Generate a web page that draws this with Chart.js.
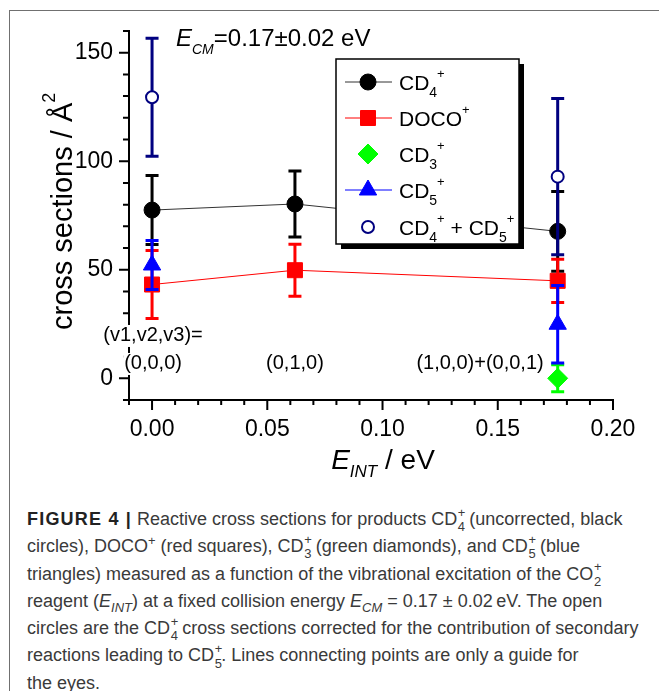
<!DOCTYPE html>
<html>
<head>
<meta charset="utf-8">
<script src="https://cdn.jsdelivr.net/npm/chart.js@4.4.1/dist/chart.umd.min.js"></script>
<style>
  body { margin: 0; background: #fff; width: 659px; height: 691px; overflow: hidden; position: relative; }
  #frame { position: absolute; left: 9px; top: 10px; width: 700px; height: 700px; border-left: 1.5px solid #707070; border-top: 1.5px solid #707070; }
  #chart { position: absolute; left: 0; top: 0; }
  #caption { position: absolute; left: 27px; top: 506px; font-family: "Liberation Sans", Arial, sans-serif; font-size: 18px; line-height: 27.3px; color: #3a3a3a; white-space: nowrap; }
  #caption b { letter-spacing: 1.2px; color: #222; }
  .ss { display: inline-block; position: relative; width: 0.55em; height: 0; font-size: 0.72em; }
  .ss span { position: absolute; left: 0.05em; line-height: 1; }
  .ss .sp { top: -1.4em; }
  .ss .sb { top: -0.3em; }
  sup { font-size: 0.72em; line-height: 0; }
  sub { font-size: 0.72em; line-height: 0; }
</style>
</head>
<body>
<div id="frame"></div>
<canvas id="chart" width="659" height="480"></canvas>
<div id="caption">
<div><b>FIGURE 4 |</b> Reactive cross sections for products CD<span class="ss"><span class="sp">+</span><span class="sb">4</span></span> (uncorrected, black</div>
<div>circles), DOCO<sup>+</sup> (red squares), CD<span class="ss"><span class="sp">+</span><span class="sb">3</span></span> (green diamonds), and CD<span class="ss"><span class="sp">+</span><span class="sb">5</span></span> (blue</div>
<div>triangles) measured as a function of the vibrational excitation of the CO<span class="ss"><span class="sp">+</span><span class="sb">2</span></span></div>
<div>reagent (<i>E<sub>INT</sub></i>) at a fixed collision energy <i>E<sub>CM</sub></i> = 0.17 ± 0.02&#8201;eV. The open</div>
<div>circles are the CD<span class="ss"><span class="sp">+</span><span class="sb">4</span></span> cross sections corrected for the contribution of secondary</div>
<div>reactions leading to CD<span class="ss"><span class="sp">+</span><span class="sb">5</span></span>. Lines connecting points are only a guide for</div>
<div>the eyes.</div>
</div>
<script>
// E_INT values (eV) of the three vibrational states
const xVals = [0.0, 0.062, 0.176];
const stateLabels = ['(0,0,0)', '(0,1,0)', '(1,0,0)+(0,0,1)'];

// cross sections (A^2) and error bars
const cd4 = [77.5, 80.3, 67.7];
const cd4Err = [15.9, 15.2, 18.4];
const doco = [43.2, 49.8, 44.9];
const docoErr = [15.7, 12.0, 10.0];
const cd3X = [0.176];
const cd3 = [0.0];
const cd3Err = [6.2];
const cd5X = [0.0, 0.176];
const cd5 = [52.2, 24.9];
const cd5Err = [11.3, 17.8];
const sumX = [0.0, 0.176];
const sum = [129.5, 92.9];
const sumErr = [27.2, 36.0];

const FONT = '"Liberation Sans", Arial, sans-serif';

function pts(xs, ys) {
    return xs.map((x, i) => ({x: x, y: ys[i]}));
}

// draw text pieces one after another: [text, size, dy, italic]
function rich(ctx, x, y, parts) {
    let cx = x;
    for (const [t, size, dy, it] of parts) {
        ctx.font = (it ? 'italic ' : '') + size + 'px ' + FONT;
        ctx.fillText(t, cx, y + dy);
        cx += ctx.measureText(t).width;
    }
    return cx;
}

function richWidth(ctx, parts) {
    let w = 0;
    for (const [t, size, dy, it] of parts) {
        ctx.font = (it ? 'italic ' : '') + size + 'px ' + FONT;
        w += ctx.measureText(t).width;
    }
    return w;
}

// label with a white box behind it (hides the axis like the original)
function boxedLabel(ctx, text, x, y, align) {
    const w = ctx.measureText(text).width;
    let left = x - w / 2;
    if (align === 'right') left = x - w;
    ctx.fillStyle = '#fff';
    ctx.fillRect(left - 1, y - 11, w + 2, 22);
    ctx.fillStyle = '#000';
    ctx.textAlign = 'left';
    ctx.fillText(text, left, y);
}

const datasets = [
    {label: 'CD4+', data: pts(xVals, cd4), errors: cd4Err, errColor: '#000',
     showLine: true, borderColor: '#333', borderWidth: 1,
     pointStyle: 'circle', pointRadius: 8, pointBackgroundColor: '#000', pointBorderColor: '#000', pointBorderWidth: 1, order: 5},
    {label: 'DOCO+', data: pts(xVals, doco), errors: docoErr, errColor: '#ff0000',
     showLine: true, borderColor: '#ff0000', borderWidth: 1,
     pointStyle: 'rect', pointRadius: 10.6, pointBackgroundColor: '#ff0000', pointBorderColor: '#ff0000', pointBorderWidth: 1, order: 4},
    {label: 'CD3+', data: pts(cd3X, cd3), errors: cd3Err, errColor: '#00ff00',
     showLine: false,
     pointStyle: 'rectRot', pointRadius: 10, pointBackgroundColor: '#00ff00', pointBorderColor: '#00ff00', pointBorderWidth: 1, order: 3},
    {label: 'CD5+', data: pts(cd5X, cd5), errors: cd5Err, errColor: '#0000ff',
     showLine: false,
     pointStyle: 'triangle', pointRadius: 10, pointBackgroundColor: '#0000ff', pointBorderColor: '#0000ff', pointBorderWidth: 1, order: 2},
    {label: 'CD4+ + CD5+', data: pts(sumX, sum), errors: sumErr, errColor: '#000080',
     showLine: false,
     pointStyle: 'circle', pointRadius: 6, pointBackgroundColor: '#fff', pointBorderColor: '#000080', pointBorderWidth: 2, order: 1}
];

// error bars, drawn just before each dataset's own markers
const errorBars = {
    id: 'errorBars',
    beforeDatasetDraw(chart, args) {
        const ds = chart.data.datasets[args.index];
        if (!ds.errors) return;
        const ctx = chart.ctx, xs = chart.scales.x, ys = chart.scales.y;
        ctx.save();
        ctx.strokeStyle = ds.errColor;
        ctx.lineWidth = 3;
        ds.data.forEach((p, i) => {
            const e = ds.errors[i];
            const px = xs.getPixelForValue(p.x);
            const top = ys.getPixelForValue(p.y + e);
            const bot = ys.getPixelForValue(p.y - e);
            ctx.beginPath();
            ctx.moveTo(px, top); ctx.lineTo(px, bot);
            ctx.moveTo(px - 6.5, top); ctx.lineTo(px + 6.5, top);
            ctx.moveTo(px - 6.5, bot); ctx.lineTo(px + 6.5, bot);
            ctx.stroke();
        });
        ctx.restore();
    }
};

// tick marks, titles, annotations and the legend box
const decorations = {
    id: 'decorations',
    afterDraw(chart) {
        const ctx = chart.ctx, xs = chart.scales.x, ys = chart.scales.y;
        const area = chart.chartArea;
        ctx.save();
        ctx.strokeStyle = '#000';
        ctx.lineWidth = 2;
        ctx.beginPath();
        xs.ticks.forEach(t => {
            const px = xs.getPixelForValue(t.value);
            const len = t.label !== '' ? 10 : 5;
            ctx.moveTo(px, area.bottom); ctx.lineTo(px, area.bottom + len);
        });
        ys.ticks.forEach(t => {
            const py = ys.getPixelForValue(t.value);
            const len = t.label !== '' ? 10 : 6;
            ctx.moveTo(area.left, py); ctx.lineTo(area.left - len, py);
        });
        ctx.stroke();

        ctx.fillStyle = '#000';
        ctx.textBaseline = 'alphabetic';

        // E_CM text
        rich(ctx, 176, 46, [['E', 24, 0, true], ['CM', 14, 8, true], ['=0.17\u00b10.02 eV', 24, 0, false]]);

        // x axis title
        const xt = [['E', 28, 0, true], ['INT', 17, 8, true], [' / eV', 28, 0, false]];
        rich(ctx, 383 - richWidth(ctx, xt) / 2, 469, xt);

        // y axis title
        ctx.save();
        ctx.translate(72, 330);
        ctx.rotate(-Math.PI / 2);
        rich(ctx, 0, 0, [['cross sections / \u00c5', 29, 0, false], ['2', 18, -17, false]]);
        ctx.restore();

        // vibrational state labels
        ctx.font = '20px ' + FONT;
        ctx.textBaseline = 'middle';
        boxedLabel(ctx, '(v1,v2,v3)=', xs.getPixelForValue(xVals[0]) + 1, ys.getPixelForValue(19.5), 'center');
        boxedLabel(ctx, stateLabels[0], xs.getPixelForValue(xVals[0]) + 1, ys.getPixelForValue(6.6), 'center');
        boxedLabel(ctx, stateLabels[1], xs.getPixelForValue(xVals[1]), ys.getPixelForValue(6.6), 'center');
        boxedLabel(ctx, stateLabels[2], xs.getPixelForValue(xVals[2]) - 14, ys.getPixelForValue(6.6), 'right');
        ctx.textBaseline = 'alphabetic';

        // legend box with shadow
        const L = 336, T = 59, R = 519, B = 244;
        ctx.fillStyle = '#000';
        ctx.fillRect(L + 5, T + 5, R - L, B - T);
        ctx.fillStyle = '#fff';
        ctx.fillRect(L, T, R - L, B - T);
        ctx.lineWidth = 1.5;
        ctx.strokeStyle = '#000';
        ctx.strokeRect(L, T, R - L, B - T);

        const rows = [82, 118, 154, 190, 227];
        const texts = [
            [['CD', 21, 0], ['4', 14, 7], ['+', 13, -12]],
            [['DOCO', 21, 0], ['+', 13, -12]],
            [['CD', 21, 0], ['3', 14, 7], ['+', 13, -12]],
            [['CD', 21, 0], ['5', 14, 7], ['+', 13, -12]],
            [['CD', 21, 0], ['4', 14, 7], ['+', 13, -12], [' + CD', 21, 0], ['5', 14, 7], ['+', 13, -12]]
        ];
        chart.data.datasets.forEach((ds, i) => {
            const y = rows[i];
            if (ds.showLine || ds.label === 'CD5+') {
                ctx.strokeStyle = ds.showLine ? ds.borderColor : ds.pointBorderColor;
                ctx.lineWidth = 1;
                ctx.beginPath();
                ctx.moveTo(345, y); ctx.lineTo(392, y);
                ctx.stroke();
            }
            ctx.fillStyle = ds.pointBackgroundColor;
            ctx.strokeStyle = ds.pointBorderColor;
            ctx.lineWidth = ds.pointBorderWidth;
            Chart.helpers.drawPoint(ctx, {pointStyle: ds.pointStyle, radius: ds.pointRadius, rotation: 0, borderWidth: ds.pointBorderWidth}, 368, y);
            ctx.fillStyle = '#000';
            rich(ctx, 399, y + 7.5, texts[i]);
        });
        ctx.restore();
    }
};

new Chart(document.getElementById('chart'), {
    type: 'scatter',
    data: {datasets: datasets},
    plugins: [errorBars, decorations],
    options: {
        responsive: false,
        animation: false,
        layout: {padding: {left: 0, top: 31, right: 46, bottom: 0}},
        plugins: {legend: {display: false}, tooltip: {enabled: false}},
        scales: {
            x: {
                type: 'linear', min: -0.01, max: 0.20,
                afterFit: s => { s.height = 80; },
                grid: {display: false, drawTicks: false},
                border: {display: true, color: '#000', width: 2},
                ticks: {
                    stepSize: 0.01, autoSkip: false, maxRotation: 0, padding: 16,
                    color: '#000', font: {family: FONT, size: 23},
                    callback: v => Math.abs(v / 0.05 - Math.round(v / 0.05)) < 1e-6 ? v.toFixed(2) : ''
                }
            },
            y: {
                type: 'linear', min: -10, max: 160,
                afterFit: s => { s.width = 129; },
                grid: {display: false, drawTicks: false},
                border: {display: true, color: '#000', width: 2},
                ticks: {
                    stepSize: 10, autoSkip: false, padding: 16,
                    color: '#000', font: {family: FONT, size: 23},
                    callback: v => v % 50 === 0 ? String(v) : ''
                }
            }
        }
    }
});
</script>
</body>
</html>
